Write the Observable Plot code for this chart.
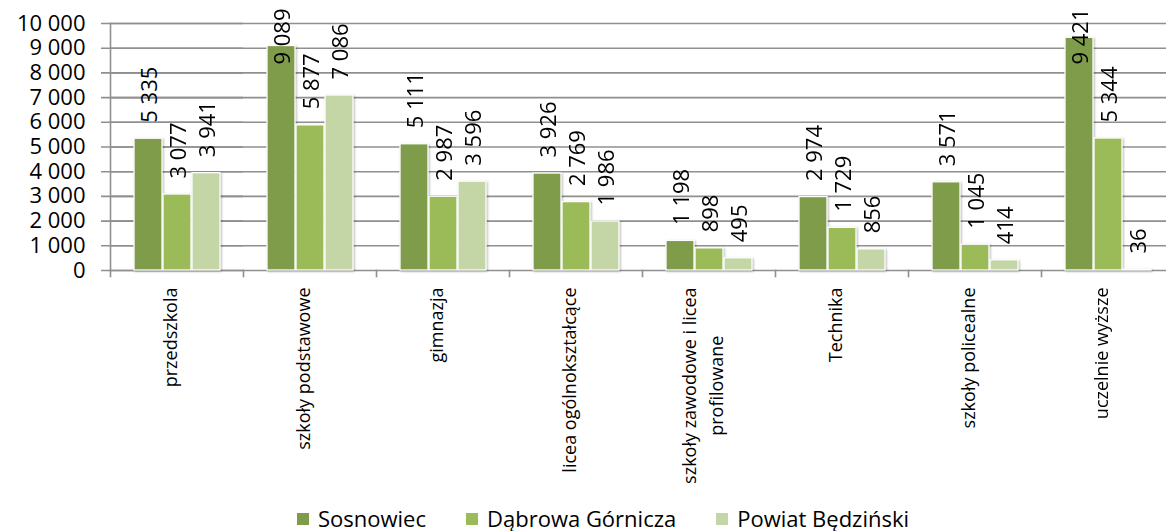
<!DOCTYPE html>
<html>
<head>
<meta charset="utf-8">
<script src="https://cdn.jsdelivr.net/npm/d3@7"></script>
<script src="https://cdn.jsdelivr.net/npm/@observablehq/plot@0.6"></script>
<style>
  html, body { margin: 0; padding: 0; background: #fff; overflow: hidden; }
  #chart { width: 1180px; }
  #chart svg { display: block; max-width: none !important; }
  #legend { display: flex; align-items: center; margin-left: 297px; padding-top: 3px; height: 31px;
            font-family: 'Open Sans', sans-serif; font-size: 22px; line-height: 31px; color: #000; white-space: nowrap; }
  #legend .item { display: flex; align-items: center; margin-right: 40px; }
  #legend .sw { width: 12px; height: 12px; margin-right: 9px; }
</style>
</head>
<body>
<div id="chart"></div>
<div id="legend"></div>
<script>
// ---- data ----
const categories = ["przedszkola", "szkoły podstawowe", "gimnazja", "licea ogólnokształcące",
  "szkoły zawodowe i licea profilowane", "Technika", "szkoły policealne", "uczelnie wyższe"];
const categoryLabels = ["przedszkola", "szkoły podstawowe", "gimnazja", "licea ogólnokształcące",
  "szkoły zawodowe i licea\nprofilowane", "Technika", "szkoły policealne", "uczelnie wyższe"];
const seriesNames = ["Sosnowiec", "Dąbrowa Górnicza", "Powiat Będziński"];
const sosnowiec = [5335, 9089, 5111, 3926, 1198, 2974, 3571, 9421];
const dabrowa   = [3077, 5877, 2987, 2769, 898, 1729, 1045, 5344];
const powiat    = [3941, 7086, 3596, 1986, 495, 856, 414, 36];
const seriesColors = ["#7f9c4a", "#9bbb59", "#c4d6a5"];
const yTicks = [0, 1000, 2000, 3000, 4000, 5000, 6000, 7000, 8000, 9000, 10000];

// ---- layout ----
const W = 1180, H = 500, mL = 107, mR = 3, mT = 23, mB = 230;
const GRID = "#8f8f8f";
const LABEL = 22, CAT = 18, TICK = 22;
const fmt = d3.formatLocale({decimal: ",", thousands: "\u00a0", grouping: [3], currency: ["", ""]}).format(",d");

const values = [sosnowiec, dabrowa, powiat];
const data = categories.flatMap((c, i) => seriesNames.map((s, j) => ({cat: c, series: s, value: values[j][i]})));

const ctx = document.createElement("canvas").getContext("2d");
function textWidth(t, size) { ctx.font = `${size}px "Open Sans"`; return ctx.measureText(t).width; }

const yScale = Plot.scale({y: {domain: [0, 10000], range: [H - mB, mT]}});
const labelGap = 16, topLimit = 8;
data.forEach(d => {
  d.label = fmt(d.value);
  const len = textWidth(d.label, LABEL);
  let start = yScale.apply(d.value) - labelGap;
  if (start - len < topLimit) start = topLimit + len;
  d.labelY = yScale.invert(start);
});

const catData = categories.map((c, i) => ({cat: c, lines: categoryLabels[i].split("\n")}));
const single = catData.filter(d => d.lines.length === 1);
const multi = catData.filter(d => d.lines.length > 1);
const catTop = 17, lineGap = 27;
const firstW = multi.length ? textWidth(multi[0].lines[0], CAT) : 0;

const chart = Plot.plot({
  width: W, height: H,
  marginLeft: mL, marginRight: mR, marginTop: mT, marginBottom: mB,
  style: {fontFamily: "'Open Sans', sans-serif", color: "#000", background: "transparent", overflow: "visible", maxWidth: "none"},
  fx: {domain: categories, padding: 0, axis: null, label: null},
  x: {domain: seriesNames, paddingInner: 0.04, paddingOuter: 0.78, axis: null},
  y: {domain: [0, 10000], axis: null},
  color: {domain: seriesNames, range: seriesColors},
  marks: [
    Plot.ruleY(yTicks, {stroke: GRID, strokeWidth: 1.6}),
    Plot.ruleY(yTicks, {stroke: GRID, strokeWidth: 1.6, insetLeft: -9, facetAnchor: "left"}),
    Plot.frame({anchor: "left", stroke: GRID, strokeWidth: 1.6, facetAnchor: "left"}),
    Plot.frame({anchor: "left", stroke: GRID, strokeWidth: 1.6, insetTop: H - mB - mT, insetBottom: -6}),
    Plot.text(yTicks, {y: d => d, text: d => fmt(d), frameAnchor: "left", textAnchor: "end", dx: -25,
      fontSize: TICK, fill: "#000", facetAnchor: "left"}),
    Plot.barY(data, {fx: "cat", x: "series", y: "value", fill: "series", stroke: "white", strokeWidth: 1.3}),
    Plot.text(data, {fx: "cat", x: "series", y: "labelY", text: "label", rotate: -90, textAnchor: "start",
      dx: 1.5, fontSize: LABEL, fill: "#000"}),
    Plot.text(single, {fx: "cat", text: d => d.lines[0], frameAnchor: "bottom", rotate: -90, textAnchor: "end",
      dy: catTop, fontSize: CAT, fill: "#000"}),
    Plot.text(multi, {fx: "cat", text: d => d.lines[0], frameAnchor: "bottom", rotate: -90, textAnchor: "end",
      dy: catTop, dx: -lineGap / 2, fontSize: CAT, fill: "#000"}),
    Plot.text(multi, {fx: "cat", text: d => d.lines[1], frameAnchor: "bottom", rotate: -90, textAnchor: "middle",
      dy: catTop + firstW / 2, dx: lineGap / 2, fontSize: CAT, fill: "#000"})
  ]
});
document.getElementById("chart").appendChild(chart);
chart.querySelectorAll('g[aria-label="bar"]').forEach(g => {
  g.style.filter = "drop-shadow(1px 1px 1.2px rgba(0,0,0,0.28))";
});

// legend
const legend = document.getElementById("legend");
seriesNames.forEach((s, i) => {
  const item = document.createElement("div");
  item.className = "item";
  const sw = document.createElement("span");
  sw.className = "sw";
  sw.style.background = seriesColors[i];
  const tx = document.createElement("span");
  tx.textContent = s;
  item.appendChild(sw); item.appendChild(tx);
  legend.appendChild(item);
});
</script>
</body>
</html>
